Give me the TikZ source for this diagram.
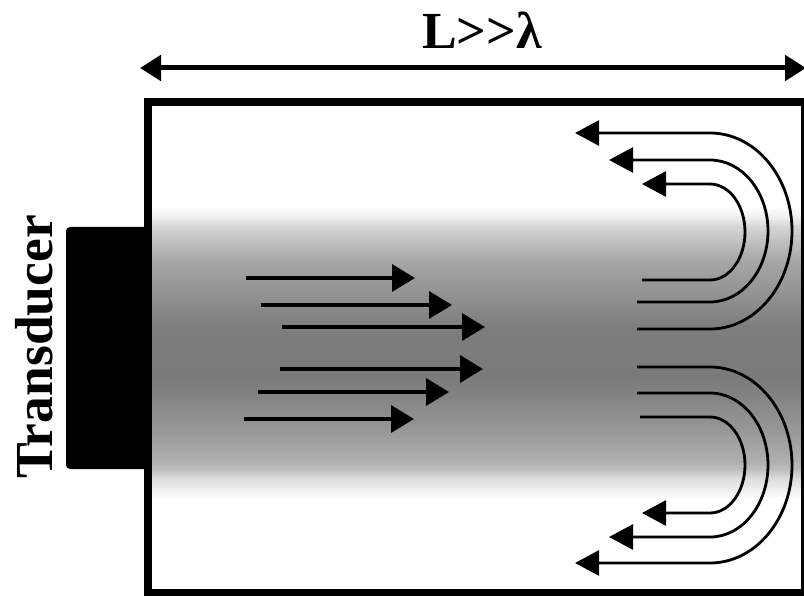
\documentclass[tikz,border=0pt]{standalone}
\usepackage{fontspec}
\setmainfont{Liberation Serif}[Ligatures=NoCommon]
\usetikzlibrary{arrows.meta}
\pgfdeclareverticalshading{beam}{100bp}{
  rgb(0bp)=(1,1,1);
  rgb(25bp)=(1,1,1);
  rgb(25.33bp)=(.97,.97,.97);
  rgb(28.15bp)=(.86,.86,.86);
  rgb(29.47bp)=(.75,.75,.75);
  rgb(30.79bp)=(.69,.69,.69);
  rgb(36.42bp)=(.59,.59,.59);
  rgb(41.89bp)=(.51,.51,.51);
  rgb(45.20bp)=(.48,.48,.48);
  rgb(52.98bp)=(.49,.49,.49);
  rgb(58.44bp)=(.57,.57,.57);
  rgb(63.91bp)=(.65,.65,.65);
  rgb(67.55bp)=(.76,.76,.76);
  rgb(69.87bp)=(.84,.84,.84);
  rgb(71.19bp)=(.93,.93,.93);
  rgb(73.01bp)=(1,1,1);
  rgb(100bp)=(1,1,1)}
\tikzset{
  flow/.style={line width=3.6pt,-{Triangle[length=23pt,width=27pt]}},
  wave/.style={line width=2.8pt,-{Triangle[length=24pt,width=25pt]}},
  label/.style={font=\fontsize{53.5}{53.5}\selectfont\bfseries,inner sep=0pt,text=black},
  title/.style={font=\fontsize{52}{52}\selectfont\bfseries,inner sep=0pt,text=black},
}
\begin{document}
\begin{tikzpicture}[x=1pt,y=-1pt]
\useasboundingbox (0,0) rectangle (804,596);
\fill[white] (0,0) rectangle (804,596);
% beam
\shade[shading=beam] (150,195) rectangle (802,497);
% tank and transducer
\draw[line width=7.5pt] (148,102) rectangle (805,593);
\node[fill=black,rounded corners=4pt,minimum width=82pt,minimum height=242pt,inner sep=0pt] (transducer) at (107,348) {};
\node[label,rotate=90,anchor=base] (tlabel) at (52,347) {Transducer};
\node[title,anchor=base] (size) at (482,49) {L>{}>λ};
% length arrow
\coordinate (lenL) at (140,68);
\coordinate (lenR) at (806,68);
\draw[line width=5pt,{Triangle[length=21pt,width=25pt]}-{Triangle[length=21pt,width=25pt]}] (lenL) -- (lenR);
% forward arrows
\foreach \n/\xa/\ya/\xb in {1/246/278/415,2/261/305/452,3/282/327/485,4/280/369/483,5/258/392/449,6/244/419/414}{
  \coordinate (f\n a) at (\xa,\ya);
  \coordinate (f\n b) at (\xb,\ya);
  \draw[flow] (f\n a) -- (f\n b);
}
% reflected waves, upper
\coordinate (u1) at (642,280); \coordinate (u1t) at (642,184);
\coordinate (u2) at (637,302); \coordinate (u2t) at (609,160);
\coordinate (u3) at (637,329); \coordinate (u3t) at (575,133);
\draw[wave] (u1) -- (710,280) arc[start angle=90,end angle=-90,x radius=35,y radius=48] -- (u1t);
\draw[wave] (u2) -- (710,302) arc[start angle=90,end angle=-90,x radius=58,y radius=71] -- (u2t);
\draw[wave] (u3) -- (710,329) arc[start angle=90,end angle=-90,x radius=82,y radius=98] -- (u3t);
% reflected waves, lower
\coordinate (d1) at (640,417); \coordinate (d1t) at (642,513);
\coordinate (d2) at (637,393); \coordinate (d2t) at (609,537);
\coordinate (d3) at (637,367); \coordinate (d3t) at (575,563);
\draw[wave] (d1) -- (710,417) arc[start angle=-90,end angle=90,x radius=35,y radius=48] -- (d1t);
\draw[wave] (d2) -- (710,393) arc[start angle=-90,end angle=90,x radius=58,y radius=72] -- (d2t);
\draw[wave] (d3) -- (710,367) arc[start angle=-90,end angle=90,x radius=82,y radius=98] -- (d3t);
\end{tikzpicture}
\end{document}
